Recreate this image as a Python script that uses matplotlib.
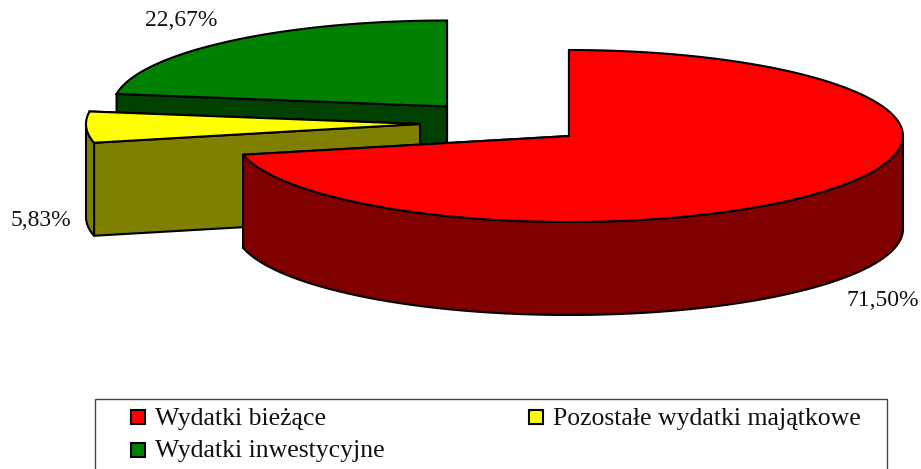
import numpy as np
import matplotlib
matplotlib.use("Agg")
import matplotlib.pyplot as plt
from matplotlib.patches import Rectangle

plt.rcParams['font.family'] = ['Liberation Serif', 'DejaVu Serif']

categories = ["Wydatki bieżące", "Pozostałe wydatki majątkowe", "Wydatki inwestycyjne"]
values = [71.50, 5.83, 22.67]
labels = ["71,50%", "5,83%", "22,67%"]
colors = ["#ff0000", "#ffff00", "#008000"]
dark = ["#800000", "#808000", "#004000"]

# pixel geometry of the fake 3d pie
centers = [(569, 136), (420, 124), (447, 106.5)]
rx, ry, depth = 334, 86, 93
label_pos = [(883, 300), (41, 220), (181, 20)]

W, H = 921, 469
fig = plt.figure(figsize=(W / 100, H / 100), dpi=100)
ax = fig.add_axes([0, 0, 1, 1])
ax.set_xlim(0, W)
ax.set_ylim(H, 0)
ax.axis("off")


def arc(c, t0, t1, dy=0):
    t = np.radians(np.linspace(t0, t1, 200))
    return c[0] + rx * np.sin(t), c[1] + dy - ry * np.cos(t)


def cut_face(c, t, col, z):
    x, y = arc(c, t, t)
    ax.fill([c[0], x[0], x[0], c[0]], [c[1], y[0], y[0] + depth, c[1] + depth],
            fc=col, ec="black", lw=lw, zorder=z)


edges = np.concatenate([[0], np.cumsum(values)]) * 3.6
lw = 1.5
z = 5
# back slices first, red one last
for i in [2, 1, 0]:
    c = centers[i]
    t0, t1 = edges[i], edges[i + 1]
    cut_face(c, t1, dark[i], z)
    cut_face(c, t0, dark[i], z + 1)
    # outer wall, only the part facing us
    a, b = max(t0, 90), min(t1, 270)
    if a < b:
        x, y = arc(c, a, b)
        x2, y2 = arc(c, b, a, depth)
        ax.fill(np.r_[x, x2], np.r_[y, y2], fc=dark[i], ec="black", lw=lw, zorder=z + 2)
    x, y = arc(c, t0, t1)
    ax.fill(np.r_[c[0], x], np.r_[c[1], y], fc=colors[i], ec="black", lw=lw, zorder=z + 3)
    ax.text(label_pos[i][0], label_pos[i][1], labels[i], fontsize=17, ha="center", va="center",
            color="#111111", zorder=20)
    z += 4

# legend box runs off the bottom of the picture
ax.add_patch(Rectangle((94.5, 399), 792.5, 80, fc="white", ec="#444444", lw=1, zorder=1))
entries = [(131, 417.5), (529, 417.5), (131, 450)]
for (x, y), name, col in zip(entries, categories, colors):
    ax.add_patch(Rectangle((x, y - 7), 14, 14, fc=col, ec="black", lw=1.5, zorder=2))
    ax.text(x + 24, y + 7.5, name, fontsize=18.5, va="baseline", ha="left", color="#111111", zorder=2)

fig.savefig("out.png", dpi=100)
